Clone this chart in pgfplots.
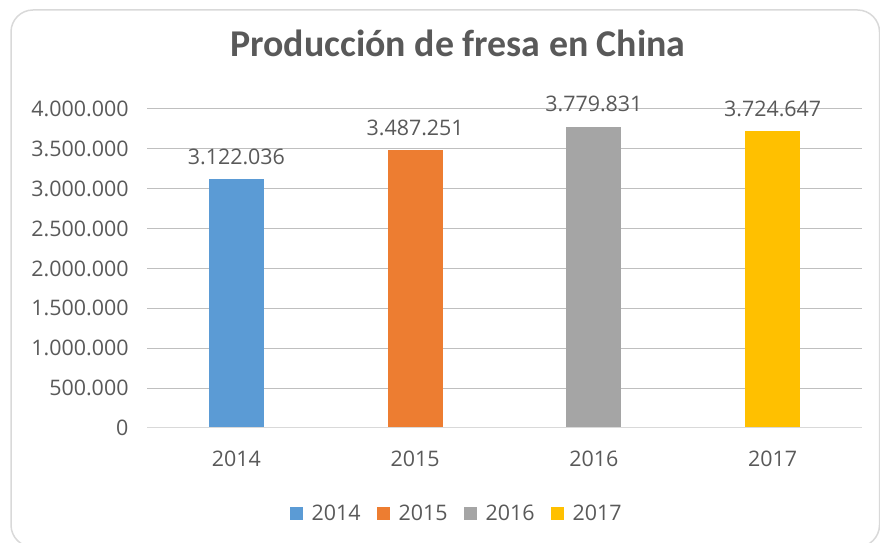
\documentclass[border=0pt]{standalone}
\usepackage{pgfplots}
\pgfplotsset{compat=1.18}
\usepackage{fontspec}
\setmainfont{Open Sans}
\newfontfamily\titlefont{Carlito}
\definecolor{txt}{HTML}{595959}
\definecolor{grid}{HTML}{D9D9D9}
\definecolor{cA}{HTML}{5B9BD5}
\definecolor{cB}{HTML}{ED7D31}
\definecolor{cC}{HTML}{A5A5A5}
\definecolor{cD}{HTML}{FFC000}
\begin{document}
\begin{tikzpicture}[x=1bp,y=1bp]
\useasboundingbox (0,0) rectangle (880,543);
\draw[grid,line width=1.5bp,rounded corners=22bp] (11,-4) rectangle (879.5,533);
\node[txt,font=\titlefont\bfseries\fontsize{38}{42}\selectfont] at (458,500) {Producción de fresa en China};
\begin{axis}[
  at={(147bp,115bp)}, anchor=south west,
  scale only axis, width=715bp, height=319bp,
  xmin=-0.5, xmax=3.5, ymin=0, ymax=4000000,
  ytick={0,500000,...,4000000},
  xtick={0,1,2,3}, xticklabels={2014,2015,2016,2017},
  scaled y ticks=false,
  /pgf/number format/.cd, 1000 sep={.}, fixed, assume math mode=true, /pgfplots/.cd,
  ybar, bar width=55bp, bar shift=0pt,
  axis line style={draw=none},
  axis x line*=bottom, axis y line*=left,
  major tick length=0pt, tick style={draw=none},
  xmajorgrids=false, ymajorgrids, grid style={grid,line width=1bp},
  ticklabel style={txt,font=\fontsize{21.5}{25}\selectfont},
  yticklabel style={xshift=-15bp},
  xticklabel style={yshift=-19bp},
  nodes near coords,
  nodes near coords style={txt,font=\fontsize{21.5}{25}\selectfont,yshift=11bp},
  legend style={at={(0.433,-0.268)}, anchor=center, draw=none, fill=none,
    legend columns=4, font=\fontsize{21.5}{25}\selectfont, text=txt,
    /tikz/every odd column/.append style={column sep=7bp},
    /tikz/every even column/.append style={column sep=14bp}},
  legend image code/.code={\fill[#1] (0bp,-6.5bp) rectangle (13bp,6.5bp);},
]
\addplot[fill=cA,draw=none] coordinates {(0,3122036)};
\addplot[fill=cB,draw=none] coordinates {(1,3487251)};
\addplot[fill=cC,draw=none] coordinates {(2,3779831)};
\addplot[fill=cD,draw=none] coordinates {(3,3724647)};
\draw[grid,line width=1bp] (axis cs:-0.5,0) -- (axis cs:3.5,0);
\legend{2014,2015,2016,2017}
\end{axis}
\end{tikzpicture}
\end{document}
